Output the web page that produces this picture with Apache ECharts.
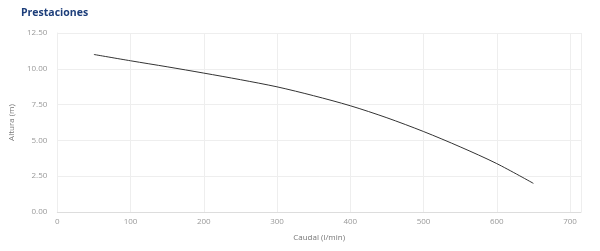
<!DOCTYPE html>
<html><head><meta charset="utf-8">
<script src="https://cdn.jsdelivr.net/npm/echarts@6/dist/echarts.min.js"></script>
<style>html,body{margin:0;padding:0;background:#fff}#c{width:600px;height:251px}</style>
</head><body><div id="c"></div>
<script>
var caudal = [50, 100, 150, 200, 250, 300, 350, 400, 450, 500, 550, 600, 650];
var altura = [11.0, 10.56, 10.14, 9.7, 9.24, 8.74, 8.12, 7.42, 6.58, 5.62, 4.55, 3.38, 2.0];
var xTitle = 'Caudal (l/min)';
var yTitle = 'Altura (m)';
var chartTitle = 'Prestaciones';

var chart = echarts.init(document.getElementById('c'));
var font = '"Open Sans", sans-serif';
chart.setOption({
  animation: false,
  title: {text: chartTitle, left: 16, top: 3,
    textStyle: {fontFamily: font, fontSize: 10.5, fontWeight: 'bold', color: '#1d3e7a'}},
  grid: {left: 56, right: 19, top: 33, bottom: 39, containLabel: false},
  xAxis: {type: 'value', min: 0, max: 715, interval: 100,
    name: xTitle, nameLocation: 'middle', nameGap: 22,
    nameTextStyle: {fontFamily: font, fontSize: 8, color: '#777'},
    axisLine: {show: true, lineStyle: {color: '#ddd'}},
    axisTick: {show: false},
    axisLabel: {fontFamily: font, fontSize: 8, color: '#999', margin: 6, showMaxLabel: false,
      formatter: function(v){ return v % 100 === 0 ? String(v) : ''; }},
    splitLine: {show: true, lineStyle: {color: '#eee'}}},
  yAxis: {type: 'value', min: 0, max: 12.5, interval: 2.5,
    name: yTitle, nameLocation: 'middle', nameGap: 29,
    nameTextStyle: {fontFamily: font, fontSize: 8, color: '#777'},
    axisLine: {show: true, lineStyle: {color: '#eee'}},
    axisTick: {show: false},
    axisLabel: {fontFamily: font, fontSize: 8, color: '#999', margin: 10,
      formatter: function(v){ return v.toFixed(2); }},
    splitLine: {show: true, lineStyle: {color: '#eee'}}},
  series: [{type: 'line', data: caudal.map(function(x,i){return [x, altura[i]];}),
    smooth: 0.3, showSymbol: false, lineStyle: {color: '#333', width: 1}}]
});
</script></body></html>
